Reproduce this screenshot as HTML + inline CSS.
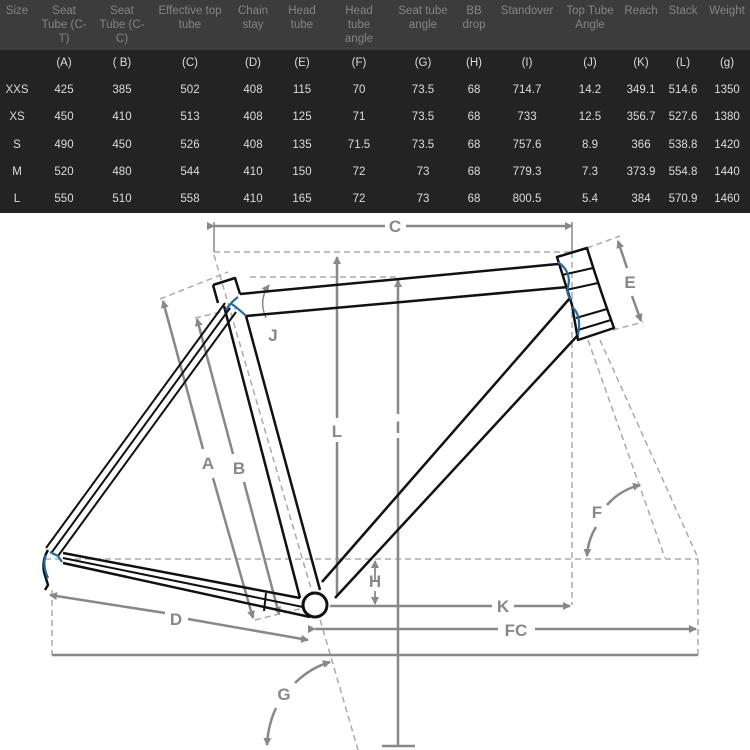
<!DOCTYPE html>
<html><head><meta charset="utf-8"><style>
html,body{margin:0;padding:0;background:#fff;}
body{width:750px;height:750px;overflow:hidden;position:relative;font-family:"Liberation Sans",sans-serif;}
.tbl{position:absolute;left:0;top:0;width:750px;height:213px;background:#232323;}
.hd{position:absolute;left:0;top:0;width:750px;height:50px;background:#3c3c3c;}
.c{position:absolute;transform:translateX(-50%);text-align:center;white-space:nowrap;font-size:11.5px;}
.h{color:#858585;line-height:14px;top:4px;}
.v{color:#dcdcdc;}
</style></head><body>
<div class="tbl"><div class="hd"></div></div>
<div class="c h" style="left:17px">Size</div>
<div class="c h" style="left:64px">Seat<br>Tube (C-<br>T)</div>
<div class="c h" style="left:122px">Seat<br>Tube (C-<br>C)</div>
<div class="c h" style="left:190px">Effective top<br>tube</div>
<div class="c h" style="left:253px">Chain<br>stay</div>
<div class="c h" style="left:302px">Head<br>tube</div>
<div class="c h" style="left:359px">Head<br>tube<br>angle</div>
<div class="c h" style="left:423px">Seat tube<br>angle</div>
<div class="c h" style="left:474px">BB<br>drop</div>
<div class="c h" style="left:527px">Standover</div>
<div class="c h" style="left:590px">Top Tube<br>Angle</div>
<div class="c h" style="left:641px">Reach</div>
<div class="c h" style="left:683px">Stack</div>
<div class="c h" style="left:727px">Weight</div>
<div id="rows"></div>
<script>
var cols=[17,64,122,190,253,302,359,423,474,527,590,641,683,727];
var data=[["","(A)","( B)","(C)","(D)","(E)","(F)","(G)","(H)","(I)","(J)","(K)","(L)","(g)"],
["XXS","425","385","502","408","115","70","73.5","68","714.7","14.2","349.1","514.6","1350"],
["XS","450","410","513","408","125","71","73.5","68","733","12.5","356.7","527.6","1380"],
["S","490","450","526","408","135","71.5","73.5","68","757.6","8.9","366","538.8","1420"],
["M","520","480","544","410","150","72","73","68","779.3","7.3","373.9","554.8","1440"],
["L","550","510","558","410","165","72","73","68","800.5","5.4","384","570.9","1460"]];
var ys=[57,84,111,139,166,193],h="";
for(var r=0;r<data.length;r++)for(var i=0;i<14;i++)h+='<div class="c v" style="left:'+cols[i]+'px;top:'+ys[r]+'px">'+data[r][i]+'</div>';
document.getElementById('rows').innerHTML=h;
</script>
<svg width="750" height="750" style="position:absolute;left:0;top:0" xmlns="http://www.w3.org/2000/svg">
<defs><marker id="a" markerWidth="8" markerHeight="8" refX="7" refY="4" orient="auto" markerUnits="userSpaceOnUse"><path d="M0,0 L8,4 L0,8 Z" fill="#888"/></marker></defs>
<g stroke="#aaa" stroke-width="1.5" stroke-dasharray="6,4" fill="none">
<line x1="214" y1="252" x2="572" y2="252"/>
<line x1="572" y1="252" x2="572" y2="605"/>
<line x1="45" y1="559" x2="698" y2="559"/>
<line x1="698" y1="559" x2="698" y2="655"/>
<line x1="52" y1="590" x2="52" y2="655"/>
<line x1="214" y1="255" x2="358" y2="750"/>
<line x1="250" y1="277" x2="398" y2="277"/>
<line x1="160" y1="299" x2="228" y2="272"/>
<line x1="195" y1="318" x2="238" y2="308"/>
<line x1="588" y1="340" x2="665" y2="558"/>
<line x1="600" y1="340" x2="698" y2="558"/>
<line x1="587" y1="248" x2="620" y2="236"/>
<line x1="613" y1="330" x2="643" y2="322"/>
<line x1="255" y1="620" x2="303" y2="608"/>
</g>
<g stroke="#888" stroke-width="2.5" fill="none">
<line x1="214" y1="226" x2="385" y2="226" marker-start="url(#a)"/>
<line x1="406" y1="226" x2="572" y2="226" marker-end="url(#a)"/>
<line x1="214" y1="222" x2="214" y2="252" stroke-width="1.5"/>
<line x1="572" y1="222" x2="572" y2="252" stroke-width="1.5"/>
<line x1="337" y1="595" x2="337" y2="257" marker-end="url(#a)"/>
<line x1="398" y1="745" x2="398" y2="280" marker-end="url(#a)"/>
<line x1="382" y1="746" x2="415" y2="746"/>
<line x1="330" y1="606" x2="492" y2="606"/>
<line x1="514" y1="606" x2="570" y2="606" marker-end="url(#a)"/>
<line x1="315" y1="629" x2="498" y2="629" marker-start="url(#a)"/>
<line x1="535" y1="629" x2="696" y2="629" marker-end="url(#a)"/>
<line x1="52" y1="655" x2="698" y2="655"/>
<line x1="375" y1="582" x2="375" y2="561" marker-end="url(#a)" stroke-width="1.8"/>
<line x1="375" y1="591" x2="375" y2="604" marker-end="url(#a)" stroke-width="1.8"/>
<line x1="165" y1="613" x2="50" y2="595" marker-end="url(#a)"/>
<line x1="188" y1="619" x2="308" y2="640" marker-end="url(#a)"/>
<line x1="203" y1="449" x2="163" y2="301" marker-end="url(#a)"/>
<line x1="213" y1="478" x2="253" y2="618" marker-end="url(#a)"/>
<line x1="233" y1="454" x2="197" y2="319" marker-end="url(#a)"/>
<line x1="244" y1="482" x2="279" y2="614" marker-end="url(#a)"/>
<line x1="627" y1="268" x2="618" y2="241" marker-end="url(#a)"/>
<line x1="632" y1="296" x2="641" y2="321" marker-end="url(#a)"/>
<path d="M607,505 Q620,490 640,485" marker-end="url(#a)"/>
<path d="M596,527 Q588,540 587,556" marker-end="url(#a)"/>
<path d="M295,683 Q310,668 330,662" marker-end="url(#a)"/>
<path d="M276,708 Q268,725 267,745" marker-end="url(#a)"/>
<path d="M266,318 Q258,300 269,285" marker-end="url(#a)" stroke-width="1.5"/>
</g>
<rect x="328" y="418" width="18" height="24" fill="#fff"/>
<rect x="390" y="414" width="16" height="24" fill="#fff"/>
<g fill="#888" font-family="Liberation Sans,sans-serif" font-weight="bold" font-size="17" text-anchor="middle">
<text x="395" y="232">C</text><text x="337" y="437">L</text><text x="398" y="433">I</text>
<text x="208" y="469">A</text><text x="239" y="474">B</text><text x="273" y="341">J</text>
<text x="630" y="288">E</text><text x="597" y="518">F</text><text x="375" y="587">H</text>
<text x="503" y="612">K</text><text x="516" y="636">FC</text><text x="176" y="625">D</text>
<text x="284" y="700">G</text>
</g>
<g stroke="#111" stroke-width="2.5" fill="none" stroke-linejoin="round">
<line x1="240" y1="294" x2="558" y2="264"/>
<line x1="246" y1="316" x2="568" y2="287"/>
<path d="M213,285 L235,278 L240,294"/>
<line x1="213" y1="285" x2="218" y2="303"/>
<line x1="224" y1="306" x2="300" y2="598"/>
<line x1="246" y1="316" x2="320" y2="590"/>
<line x1="570" y1="298" x2="322" y2="582"/>
<line x1="578" y1="335" x2="335" y2="598"/>
<path d="M557,257 L587,248 Q600,290 614,328 L578,340 L572,305 Z"/>
<line x1="562" y1="275" x2="593" y2="268" stroke-width="2"/>
<line x1="566" y1="290" x2="598" y2="283" stroke-width="2"/>
<line x1="576" y1="318" x2="607" y2="309" stroke-width="2"/>
<line x1="578" y1="330" x2="611" y2="320" stroke-width="2"/>
<line x1="225" y1="303" x2="46" y2="548" stroke-width="2"/>
<line x1="230" y1="308" x2="52" y2="552" stroke-width="2"/>
<line x1="236" y1="312" x2="58" y2="556" stroke-width="2"/>
<line x1="63" y1="553" x2="300" y2="598"/>
<line x1="63" y1="558" x2="303" y2="607" stroke-width="2"/>
<line x1="63" y1="563" x2="310" y2="617"/>
<line x1="266" y1="593" x2="264" y2="611" stroke-width="2"/>
<circle cx="315" cy="605" r="12" stroke-width="3" fill="#fff"/>
<path d="M48,550 Q42,560 44,572 L48,585 L45,590" stroke-width="2.5"/>
</g>
<g stroke="#1f6aa5" stroke-width="2.2" fill="none">
<path d="M238,297 Q230,303 226,310 M230,303 Q238,308 246,316"/>
<path d="M558,262 Q572,272 568,287 Q566,295 572,300"/>
<path d="M572,307 Q582,315 578,335"/>
<path d="M46,555 Q42,565 48,578 M50,552 L58,556 L62,562"/>
</g>
</svg>
</body></html>
